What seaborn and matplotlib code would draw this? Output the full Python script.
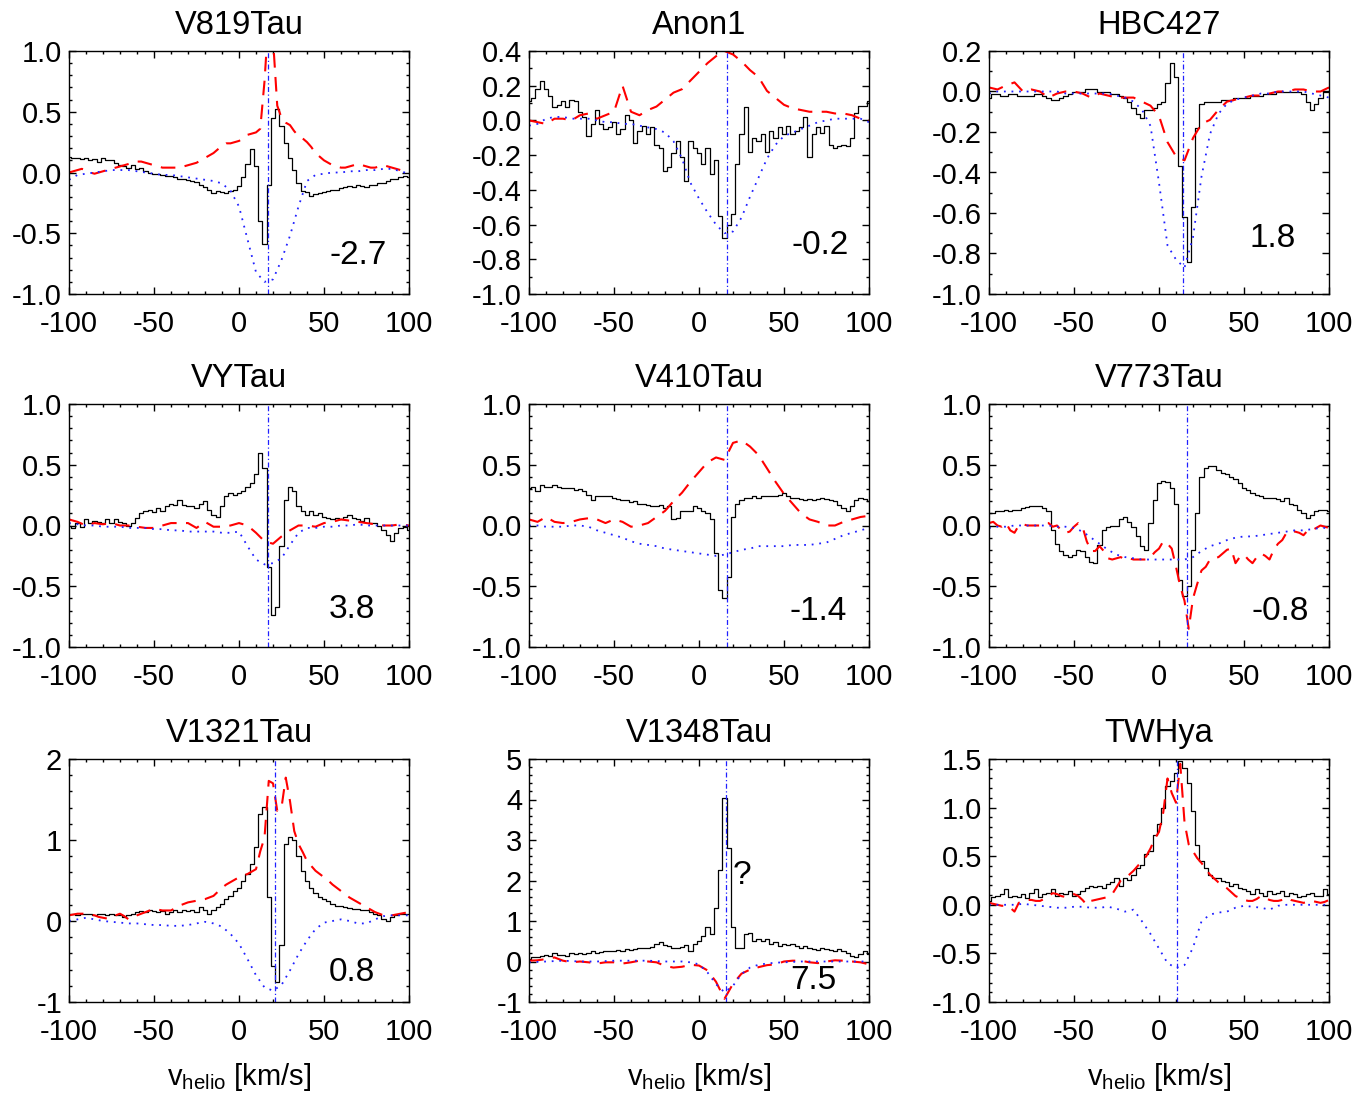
import numpy as np
import matplotlib
matplotlib.use("Agg")
import matplotlib.pyplot as plt
from matplotlib.ticker import MultipleLocator, FormatStrFormatter
import seaborn as sns

sns.set_style("ticks")
plt.rcParams['font.family'] = ['Liberation Sans', 'DejaVu Sans']
plt.rcParams['mathtext.fontset'] = 'custom'
plt.rcParams['mathtext.rm'] = 'Liberation Sans'
plt.rcParams['mathtext.it'] = 'Liberation Sans:italic'
plt.rcParams['axes.unicode_minus'] = False
for key in ['text.color', 'axes.labelcolor', 'xtick.color', 'ytick.color',
            'axes.edgecolor', 'axes.titlecolor']:
    plt.rcParams[key] = 'black'

# ---------------- data ----------------
names = ["V819Tau", "Anon1", "HBC427", "VYTau", "V410Tau", "V773Tau",
         "V1321Tau", "V1348Tau", "TWHya"]
vsys = [16.8, 16.5, 14.4, 17.1, 16.2, 16.7, 21.3, 15.6, 10.5]
notes = ["-2.7", "-0.2", "1.8", "3.8", "-1.4", "-0.8", "0.8", "7.5", ""]
ylims = [(-1, 1), (-1, 0.4), (-1, 0.2), (-1, 1), (-1, 1), (-1, 1),
         (-1, 2), (-1, 5), (-1, 1.5)]
ymajor = [0.5, 0.2, 0.2, 0.5, 0.5, 0.5, 1, 1, 0.5]
yminor = [0.1, 0.1, 0.1, 0.1, 0.1, 0.1, 0.2, 0.2, 0.1]

v_fine = np.linspace(-100, 100, 81)     # 2.5 km/s bins
v_coarse = np.linspace(-100, 100, 41)   # 5 km/s samples

v819_black = [
    0.13, 0.12, 0.12, 0.11, 0.12, 0.10, 0.11, 0.09, 0.12, 0.10,
    0.10, 0.08, 0.06, 0.05, 0.04, 0.06, 0.03, 0.04, 0.01, 0.00,
    -0.01, -0.01, -0.02, -0.03, -0.03, -0.04, -0.05, -0.05, -0.06, -0.07,
    -0.08, -0.10, -0.12, -0.14, -0.17, -0.15, -0.16, -0.17, -0.15, -0.14,
    -0.11, -0.04, 0.07, 0.19, 0.05, -0.40, -0.59, -0.10, 0.45, 0.52,
    0.38, 0.24, 0.12, 0.02, -0.09, -0.15, -0.16, -0.19, -0.18, -0.17,
    -0.16, -0.15, -0.14, -0.14, -0.13, -0.12, -0.11, -0.12, -0.10, -0.11,
    -0.12, -0.10, -0.10, -0.09, -0.09, -0.07, -0.05, -0.05, -0.04, -0.03,
    -0.04]
v819_red = [
    0.00, 0.01, 0.02, 0.03, 0.02, 0.00, -0.01, 0.00, 0.01, 0.02,
    0.03, 0.04, 0.05, 0.06, 0.07, 0.08, 0.09, 0.09, 0.08, 0.07,
    0.06, 0.05, 0.04, 0.04, 0.04, 0.04, 0.04, 0.05, 0.06, 0.07,
    0.08, 0.10, 0.12, 0.14, 0.16, 0.19, 0.22, 0.24, 0.24, 0.25,
    0.26, 0.28, 0.31, 0.32, 0.33, 0.36, 0.75, 1.30, 1.10, 0.55,
    0.45, 0.41, 0.39, 0.34, 0.30, 0.28, 0.25, 0.21, 0.16, 0.13,
    0.10, 0.08, 0.06, 0.05, 0.04, 0.04, 0.05, 0.06, 0.07, 0.06,
    0.05, 0.04, 0.04, 0.05, 0.06, 0.05, 0.04, 0.03, 0.02, 0.03,
    0.04]
v819_blue = [
    -0.06, -0.02, -0.01, 0.00, 0.01, 0.02, 0.02, 0.02, 0.01, 0.00,
    -0.01, -0.02, -0.02, -0.03, -0.04, -0.05, -0.06, -0.07, -0.09, -0.15,
    -0.28, -0.55, -0.82, -0.90, -0.88, -0.72, -0.52, -0.28, -0.07, -0.02,
    -0.01, 0.00, 0.00, 0.01, 0.01, 0.02, 0.02, 0.03, 0.03, 0.01,
    -0.01]

anon1_black = [
    0.11, 0.13, 0.18, 0.23, 0.18, 0.14, 0.075, 0.09, 0.11, 0.075,
    0.12, 0.11, 0.05, 0.02, -0.09, -0.02, 0.06, -0.02, -0.05, -0.04,
    -0.01, -0.08, -0.05, 0.03, 0.00, -0.13, -0.06, -0.03, -0.08, -0.04,
    -0.14, -0.16, -0.29, -0.27, -0.19, -0.12, -0.21, -0.35, -0.12, -0.16,
    -0.19, -0.25, -0.16, -0.31, -0.23, -0.55, -0.68, -0.60, -0.54, -0.25,
    -0.08, 0.075, -0.18, -0.10, -0.12, -0.08, -0.18, -0.06, -0.10, -0.04,
    -0.08, -0.03, -0.08, -0.06, -0.04, 0.02, -0.21, -0.08, -0.04, -0.07,
    -0.03, -0.14, -0.16, -0.15, -0.14, -0.15, -0.10, 0.04, 0.085, 0.085,
    0.11]
anon1_red = [
    0.00, -0.01, -0.02, 0.01, 0.01, 0.00, 0.03, 0.04, 0.01, 0.03,
    0.05, 0.20, 0.05, 0.03, 0.06, 0.08, 0.12, 0.16, 0.18, 0.23,
    0.28, 0.33, 0.37, 0.40, 0.38, 0.34, 0.29, 0.25, 0.17, 0.13,
    0.09, 0.07, 0.06, 0.05, 0.05, 0.05, 0.04, 0.04, 0.03, 0.01,
    0.00]
anon1_blue = [
    -0.03, -0.02, 0.01, 0.02, 0.02, 0.01, 0.01, 0.01, 0.00, -0.01,
    -0.01, -0.02, -0.02, -0.03, -0.04, -0.05, -0.07, -0.12, -0.22, -0.36,
    -0.45, -0.53, -0.60, -0.65, -0.64, -0.56, -0.44, -0.33, -0.22, -0.14,
    -0.09, -0.07, -0.05, -0.03, -0.01, 0.00, 0.01, 0.01, 0.01, 0.01,
    -0.01]

hbc427_black = [
    -0.03, -0.01, -0.01, -0.02, -0.02, -0.01, -0.01, -0.02, -0.02, -0.02,
    -0.02, -0.01, -0.01, -0.02, -0.03, -0.04, -0.04, -0.03, -0.02, -0.01,
    0.00, 0.00, 0.00, 0.01, 0.01, 0.01, 0.00, 0.00, 0.00, -0.01,
    -0.01, -0.02, -0.03, -0.05, -0.08, -0.11, -0.13, -0.09, -0.09, -0.08,
    -0.06, -0.05, 0.04, 0.14, 0.07, -0.37, -0.62, -0.84, -0.57, -0.18,
    -0.06, -0.05, -0.05, -0.05, -0.05, -0.04, -0.04, -0.04, -0.03, -0.03,
    -0.03, -0.03, -0.02, -0.02, -0.02, -0.01, -0.01, -0.01, 0.00, 0.00,
    0.00, 0.00, 0.00, 0.00, -0.01, -0.05, -0.09, -0.06, -0.03, 0.00,
    0.00]
hbc427_red = [
    0.02, 0.01, 0.03, 0.045, 0.00, 0.01, 0.00, -0.03, -0.01, 0.00,
    0.00, -0.01, -0.03, -0.01, -0.02, -0.03, -0.03, -0.03, -0.05, -0.07,
    -0.12, -0.25, -0.32, -0.34, -0.23, -0.16, -0.14, -0.09, -0.05, -0.04,
    -0.03, -0.02, -0.02, -0.01, 0.00, 0.00, 0.01, 0.01, 0.00, 0.00,
    0.02]
hbc427_blue = [
    -0.01, 0.00, 0.00, 0.00, 0.00, 0.00, 0.00, 0.00, 0.00, -0.01,
    -0.01, -0.01, -0.01, -0.01, -0.01, -0.02, -0.03, -0.05, -0.09, -0.17,
    -0.45, -0.76, -0.83, -0.87, -0.72, -0.42, -0.21, -0.11, -0.06, -0.04,
    -0.03, -0.02, -0.01, -0.01, 0.00, 0.00, 0.00, 0.00, -0.01, -0.02,
    -0.03]

vytau_black = [
    0.00, -0.02, 0.02, -0.01, 0.05, 0.02, 0.04, 0.03, 0.02, 0.05,
    0.02, 0.05, 0.03, 0.02, 0.00, 0.02, 0.06, 0.10, 0.12, 0.13,
    0.11, 0.14, 0.12, 0.16, 0.18, 0.17, 0.21, 0.17, 0.16, 0.16,
    0.14, 0.18, 0.20, 0.13, 0.09, 0.07, 0.16, 0.24, 0.27, 0.25,
    0.27, 0.28, 0.32, 0.35, 0.42, 0.60, 0.47, -0.34, -0.74, -0.67,
    -0.17, 0.21, 0.32, 0.28, 0.16, 0.12, 0.09, 0.12, 0.09, 0.10,
    0.07, 0.06, 0.05, 0.06, 0.05, 0.07, 0.09, 0.06, 0.05, 0.04,
    0.06, 0.02, 0.02, 0.00, -0.04, -0.08, -0.13, -0.06, -0.02, -0.01,
    -0.04]
vytau_red = [
    0.05, 0.03, 0.00, 0.02, 0.01, 0.02, 0.00, 0.00, -0.01, -0.02,
    -0.02, 0.00, 0.02, 0.02, 0.02, -0.02, 0.03, -0.01, -0.01, 0.00,
    0.02, 0.00, -0.06, -0.13, -0.15, -0.09, -0.04, 0.00, 0.00, -0.01,
    0.02, 0.03, 0.05, 0.04, 0.03, 0.02, 0.01, 0.00, 0.00, 0.01,
    0.00]
vytau_blue = [
    0.02, 0.01, 0.00, 0.00, -0.01, -0.01, -0.01, -0.02, -0.02, -0.02,
    -0.03, -0.03, -0.04, -0.04, -0.05, -0.05, -0.05, -0.05, -0.06, -0.06,
    -0.05, -0.17, -0.28, -0.32, -0.31, -0.27, -0.16, -0.06, -0.02, -0.02,
    -0.01, -0.01, 0.00, 0.00, 0.01, 0.00, 0.00, 0.00, 0.00, 0.00,
    0.00]

v410_black = [
    0.31, 0.32, 0.28, 0.33, 0.32, 0.32, 0.33, 0.32, 0.31, 0.31,
    0.31, 0.29, 0.30, 0.28, 0.25, 0.21, 0.24, 0.24, 0.24, 0.24,
    0.23, 0.22, 0.21, 0.21, 0.19, 0.20, 0.18, 0.18, 0.17, 0.16,
    0.16, 0.17, 0.14, 0.16, 0.05, 0.06, 0.12, 0.12, 0.12, 0.16,
    0.14, 0.12, 0.10, 0.05, -0.23, -0.53, -0.60, -0.42, 0.07, 0.18,
    0.21, 0.23, 0.23, 0.24, 0.23, 0.24, 0.24, 0.24, 0.24, 0.25,
    0.27, 0.24, 0.23, 0.23, 0.22, 0.21, 0.22, 0.21, 0.22, 0.23,
    0.22, 0.21, 0.20, 0.17, 0.14, 0.12, 0.16, 0.21, 0.23, 0.22,
    0.20]
v410_red = [
    0.05, 0.03, 0.07, 0.03, 0.02, 0.03, 0.05, 0.06, 0.05, 0.02,
    0.05, 0.03, -0.01, 0.00, 0.02, 0.07, 0.12, 0.20, 0.27, 0.36,
    0.44, 0.52, 0.56, 0.54, 0.68, 0.70, 0.65, 0.58, 0.47, 0.36,
    0.26, 0.18, 0.10, 0.05, 0.03, 0.00, 0.00, 0.03, 0.05, 0.07,
    0.08]
v410_blue = [
    0.00, 0.00, -0.01, -0.01, -0.01, 0.00, 0.00, -0.01, -0.04, -0.06,
    -0.08, -0.10, -0.13, -0.15, -0.16, -0.17, -0.19, -0.20, -0.21, -0.22,
    -0.23, -0.24, -0.25, -0.24, -0.22, -0.20, -0.19, -0.17, -0.17, -0.17,
    -0.17, -0.16, -0.16, -0.16, -0.15, -0.14, -0.11, -0.08, -0.06, -0.04,
    -0.02]

v773_black = [
    0.10, 0.10, 0.12, 0.12, 0.13, 0.12, 0.13, 0.13, 0.14, 0.15,
    0.16, 0.16, 0.16, 0.14, 0.12, -0.04, -0.15, -0.21, -0.24, -0.26,
    -0.24, -0.20, -0.21, -0.26, -0.30, -0.31, -0.16, -0.04, -0.01, 0.00,
    0.00, 0.05, 0.07, 0.03, -0.01, -0.09, -0.17, -0.20, 0.02, 0.21,
    0.35, 0.37, 0.36, 0.31, 0.18, -0.45, -0.58, -0.50, -0.20, 0.10,
    0.40, 0.47, 0.49, 0.49, 0.46, 0.43, 0.42, 0.40, 0.38, 0.35,
    0.31, 0.29, 0.27, 0.25, 0.24, 0.23, 0.23, 0.23, 0.22, 0.20,
    0.23, 0.18, 0.17, 0.13, 0.10, 0.06, 0.09, 0.12, 0.13, 0.13,
    0.12]
v773_red = [
    0.02, 0.03, 0.00, -0.01, 0.02, -0.04, -0.06, 0.00, 0.01, 0.00,
    0.00, 0.00, 0.00, 0.02, 0.02, -0.01, 0.00, -0.04, -0.06, -0.05,
    -0.01, 0.02, -0.01, -0.13, -0.21, -0.21, -0.17, -0.21, -0.27, -0.28,
    -0.27, -0.26, -0.28, -0.27, -0.28, -0.28, -0.28, -0.28, -0.26, -0.22,
    -0.19, -0.13, -0.15, -0.19, -0.34, -0.50, -0.62, -0.85, -0.60, -0.48,
    -0.37, -0.34, -0.28, -0.27, -0.26, -0.23, -0.20, -0.19, -0.31, -0.26,
    -0.24, -0.28, -0.31, -0.26, -0.23, -0.25, -0.28, -0.20, -0.15, -0.12,
    -0.06, -0.05, -0.05, -0.06, -0.08, -0.04, -0.04, -0.02, 0.00, -0.01,
    -0.02]
v773_blue = [
    -0.02, -0.01, -0.01, 0.00, 0.00, 0.00, 0.00, 0.00, -0.01, -0.01,
    -0.02, -0.05, -0.10, -0.15, -0.20, -0.24, -0.26, -0.27, -0.28, -0.28,
    -0.28, -0.28, -0.28, -0.28, -0.26, -0.21, -0.17, -0.15, -0.12, -0.10,
    -0.09, -0.09, -0.08, -0.07, -0.06, -0.05, -0.04, -0.04, -0.03, -0.02,
    -0.02]

v1321_black = [
    0.09, 0.09, 0.08, 0.09, 0.09, 0.09, 0.08, 0.09, 0.09, 0.07,
    0.09, 0.07, 0.08, 0.05, 0.07, 0.09, 0.11, 0.12, 0.11, 0.13,
    0.12, 0.11, 0.12, 0.09, 0.11, 0.13, 0.11, 0.14, 0.12, 0.13,
    0.11, 0.17, 0.13, 0.09, 0.13, 0.17, 0.21, 0.27, 0.31, 0.37,
    0.41, 0.50, 0.58, 0.70, 0.91, 1.32, 1.41, 0.30, -0.55, -0.75,
    -0.30, 0.95, 1.04, 1.00, 0.80, 0.62, 0.50, 0.41, 0.35, 0.30,
    0.27, 0.25, 0.21, 0.19, 0.18, 0.17, 0.16, 0.15, 0.15, 0.14,
    0.13, 0.11, 0.09, 0.07, 0.02, 0.00, 0.05, 0.07, 0.09, 0.09,
    0.09]
v1321_red = [
    0.07, 0.08, 0.09, 0.09, 0.09, 0.08, 0.07, 0.05, 0.04, 0.03,
    0.05, 0.07, 0.09, 0.06, 0.02, 0.04, 0.07, 0.09, 0.11, 0.13,
    0.15, 0.14, 0.13, 0.13, 0.13, 0.16, 0.19, 0.21, 0.23, 0.24,
    0.25, 0.26, 0.27, 0.29, 0.31, 0.36, 0.41, 0.45, 0.48, 0.51,
    0.54, 0.56, 0.58, 0.61, 0.64, 0.86, 1.03, 1.73, 1.70, 1.36,
    1.40, 1.77, 1.48, 1.11, 0.95, 0.85, 0.74, 0.68, 0.62, 0.58,
    0.54, 0.50, 0.45, 0.41, 0.37, 0.33, 0.29, 0.26, 0.23, 0.20,
    0.17, 0.14, 0.11, 0.09, 0.07, 0.07, 0.07, 0.08, 0.09, 0.10,
    0.11]
v1321_blue = [
    0.00, 0.02, 0.04, 0.02, 0.00, -0.01, -0.02, -0.03, -0.03, -0.04,
    -0.05, -0.05, -0.06, -0.06, -0.05, -0.03, -0.01, -0.03, -0.07, -0.16,
    -0.28, -0.47, -0.67, -0.82, -0.86, -0.79, -0.61, -0.41, -0.24, -0.10,
    -0.02, 0.00, 0.02, 0.00, -0.03, -0.03, 0.02, 0.06, 0.07, 0.07,
    0.07]

v1348_black = [
    0.06, 0.10, 0.11, 0.14, 0.16, 0.14, 0.22, 0.16, 0.16, 0.14,
    0.20, 0.18, 0.22, 0.18, 0.20, 0.25, 0.20, 0.24, 0.26, 0.25,
    0.26, 0.28, 0.25, 0.30, 0.28, 0.30, 0.34, 0.33, 0.34, 0.36,
    0.43, 0.47, 0.41, 0.39, 0.34, 0.33, 0.36, 0.40, 0.26, 0.43,
    0.51, 0.63, 0.84, 0.67, 1.33, 2.27, 4.03, 2.80, 0.84, 0.34,
    0.34, 0.67, 0.71, 0.51, 0.55, 0.51, 0.55, 0.43, 0.47, 0.39,
    0.43, 0.41, 0.44, 0.39, 0.34, 0.39, 0.34, 0.30, 0.28, 0.33,
    0.30, 0.28, 0.26, 0.30, 0.25, 0.22, 0.14, 0.11, 0.18, 0.26,
    0.18]
v1348_red = [
    0.02, 0.03, 0.06, 0.10, 0.02, -0.02, 0.00, -0.02, -0.05, -0.02,
    -0.02, -0.05, -0.02, 0.02, 0.00, -0.02, -0.11, -0.15, -0.13, -0.08,
    -0.10, -0.22, -0.50, -0.92, -0.55, -0.30, -0.20, -0.14, -0.09, -0.07,
    0.00, 0.02, 0.02, -0.02, -0.04, 0.00, 0.03, 0.02, 0.00, -0.02,
    -0.07]
v1348_blue = [
    -0.02, -0.01, 0.00, 0.01, 0.02, 0.01, 0.00, 0.00, 0.00, 0.01,
    0.02, 0.02, 0.02, 0.02, 0.02, 0.01, 0.00, 0.00, 0.00, -0.02,
    -0.07, -0.27, -0.56, -0.76, -0.60, -0.31, -0.15, -0.08, -0.05, -0.03,
    -0.02, -0.01, 0.00, 0.00, 0.00, 0.00, 0.00, 0.00, 0.00, 0.00,
    0.00]

twhya_black = [
    0.04, 0.08, 0.09, 0.11, 0.16, 0.08, 0.09, 0.08, 0.11, 0.07,
    0.12, 0.16, 0.08, 0.11, 0.12, 0.16, 0.09, 0.12, 0.11, 0.14,
    0.09, 0.11, 0.14, 0.17, 0.19, 0.18, 0.19, 0.17, 0.21, 0.23,
    0.28, 0.19, 0.28, 0.26, 0.31, 0.38, 0.41, 0.52, 0.55, 0.72,
    0.83, 1.00, 1.22, 1.27, 1.36, 1.48, 1.41, 1.25, 0.96, 0.62,
    0.45, 0.38, 0.31, 0.28, 0.28, 0.24, 0.23, 0.19, 0.21, 0.17,
    0.16, 0.14, 0.11, 0.16, 0.12, 0.09, 0.14, 0.11, 0.12, 0.14,
    0.09, 0.12, 0.11, 0.08, 0.09, 0.11, 0.12, 0.09, 0.09, 0.16,
    0.11]
twhya_red = [
    0.02, 0.01, 0.00, -0.01, -0.01, -0.03, -0.07, 0.02, 0.04, 0.05,
    0.05, 0.04, 0.04, 0.06, 0.09, 0.12, 0.11, 0.09, 0.08, 0.10,
    0.11, 0.09, 0.05, 0.00, 0.04, 0.05, 0.06, 0.07, 0.08, 0.11,
    0.18, 0.25, 0.28, 0.31, 0.35, 0.40, 0.45, 0.50, 0.58, 0.68,
    0.75, 0.95, 1.30, 1.15, 1.05, 1.45, 0.85, 0.62, 0.55, 0.48,
    0.43, 0.37, 0.31, 0.27, 0.23, 0.20, 0.17, 0.13, 0.09, 0.07,
    0.05, 0.04, 0.04, 0.06, 0.09, 0.07, 0.05, 0.04, 0.04, 0.05,
    0.07, 0.05, 0.04, 0.03, 0.02, 0.03, 0.04, 0.03, 0.02, 0.03,
    0.05]
twhya_blue = [
    0.00, 0.00, 0.00, 0.00, 0.01, 0.00, -0.01, -0.02, -0.03, -0.03,
    -0.02, -0.02, -0.03, -0.03, -0.02, -0.04, -0.07, -0.05, -0.17, -0.30,
    -0.45, -0.60, -0.65, -0.62, -0.44, -0.17, -0.10, -0.08, -0.07, -0.03,
    -0.01, -0.02, -0.03, -0.05, -0.01, 0.00, 0.00, 0.00, 0.00, 0.00,
    0.00]

blacks = [v819_black, anon1_black, hbc427_black, vytau_black, v410_black,
          v773_black, v1321_black, v1348_black, twhya_black]
reds = [v819_red, anon1_red, hbc427_red, vytau_red, v410_red, v773_red,
        v1321_red, v1348_red, twhya_red]
blues = [v819_blue, anon1_blue, hbc427_blue, vytau_blue, v410_blue,
         v773_blue, v1321_blue, v1348_blue, twhya_blue]


def grid_for(vals):
    return v_fine if len(vals) == len(v_fine) else v_coarse


# ---------------- figure ----------------
W, H = 1371, 1093
fig = plt.figure(figsize=(W / 100, H / 100), dpi=100)
col_left = [69, 529, 989]
row_top = [51, 404, 759]
aw, ah = 340, 243
note_pos = [(0.85, 0.16), (0.856, 0.20), (0.835, 0.23), (0.832, 0.155),
            (0.85, 0.147), (0.856, 0.147), (0.832, 0.12), (0.835, 0.09),
            (0.85, 0.15)]

for i, name in enumerate(names):
    r, c = divmod(i, 3)
    ax = fig.add_axes([col_left[c] / W, 1 - (row_top[r] + ah) / H, aw / W, ah / H])
    blk, red, blu = blacks[i], reds[i], blues[i]
    sns.lineplot(x=v_fine, y=blk, ax=ax, color='black', lw=0.9,
                 drawstyle='steps-mid', estimator=None, sort=False)
    sns.lineplot(x=grid_for(red), y=red, ax=ax, color='#ff0000', lw=1.5,
                 linestyle=(0, (7, 4.5)), estimator=None, sort=False)
    sns.lineplot(x=grid_for(blu), y=blu, ax=ax, color='#2020ff', lw=1.3,
                 linestyle=(0, (1.0, 3.2)), estimator=None, sort=False)
    ax.axvline(vsys[i], color='#2020ff', lw=0.9, linestyle=(0, (4, 2, 1, 2)))

    ax.set_xlim(-100, 100)
    ax.set_ylim(*ylims[i])
    ax.xaxis.set_major_locator(MultipleLocator(50))
    ax.xaxis.set_minor_locator(MultipleLocator(10))
    ax.yaxis.set_major_locator(MultipleLocator(ymajor[i]))
    ax.yaxis.set_minor_locator(MultipleLocator(yminor[i]))
    ax.yaxis.set_major_formatter(FormatStrFormatter('%d' if ymajor[i] >= 1 else '%.1f'))
    ax.xaxis.set_major_formatter(FormatStrFormatter('%d'))
    ax.tick_params(which='both', direction='in', top=True, right=True,
                   width=1.0, colors='black')
    ax.tick_params(which='major', length=5, labelsize=21)
    ax.tick_params(which='minor', length=2.5)
    ax.tick_params(axis='x', which='major', pad=11.5)
    ax.tick_params(axis='y', which='major', pad=5)
    for sp in ax.spines.values():
        sp.set_linewidth(1.0)
        sp.set_color('black')
    ax.set_title(name, fontsize=23.5, pad=12)
    ax.set_ylabel('')
    if r == 2:
        ax.set_xlabel(r'v$_{\mathrm{helio}}$ [km/s]', fontsize=21, labelpad=11)
    else:
        ax.set_xlabel('')
    if notes[i]:
        ax.text(note_pos[i][0], note_pos[i][1], notes[i], transform=ax.transAxes,
                ha='center', va='center', fontsize=24)
    if name == "V1348Tau":
        ax.text(0.626, 0.52, "?", transform=ax.transAxes, ha='center',
                va='center', fontsize=24)

fig.savefig("out.png", dpi=100)
